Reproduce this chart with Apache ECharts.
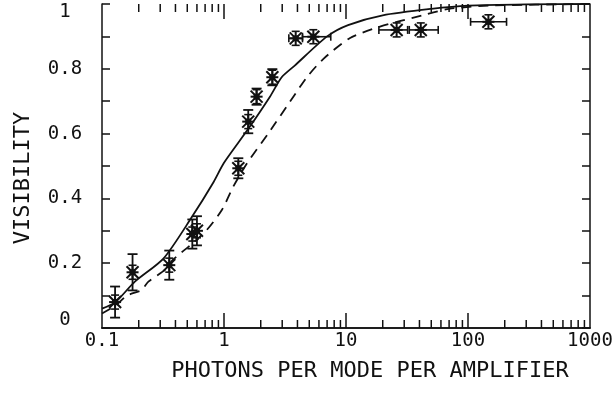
<!DOCTYPE html>
<html>
<head>
<meta charset="utf-8">
<script src="https://cdn.jsdelivr.net/npm/echarts@6/dist/echarts.min.js"></script>
<style>
  html, body { margin: 0; background: #fff; }
  #chart { width: 613px; height: 398px; }
</style>
</head>
<body>
<div id="chart"></div>
<script>
  const photons     = [0.128, 0.178, 0.356, 0.55, 0.6, 1.31, 1.58, 1.85, 2.49, 3.87, 5.4, 26, 41, 147];
  const visibility  = [0.08, 0.172, 0.194, 0.29, 0.30, 0.493, 0.637, 0.714, 0.774, 0.894, 0.899, 0.92, 0.92, 0.945];
  const visLow      = [0.032, 0.116, 0.149, 0.245, 0.255, 0.462, 0.601, 0.689, 0.749, 0.884, 0.889, 0.908, 0.908, 0.937];
  const visHigh     = [0.128, 0.228, 0.239, 0.335, 0.345, 0.524, 0.673, 0.739, 0.799, 0.904, 0.909, 0.932, 0.932, 0.953];
  const photonsLow  = [0.128, 0.178, 0.356, 0.55, 0.6, 1.31, 1.58, 1.85, 2.49, 3.4, 4.4, 18.6, 33, 105];
  const photonsHigh = [0.128, 0.178, 0.356, 0.55, 0.6, 1.31, 1.58, 1.85, 2.49, 4.4, 7.5, 32, 57, 207];

  // theory curves
  const solidX = [0.1, 0.128, 0.186, 0.32, 0.54, 0.82, 1.0, 1.55, 2.38, 2.97, 3.8, 7, 10.4, 20, 50, 100, 300, 1000];
  const solidY = [0.06, 0.079, 0.143, 0.215, 0.34, 0.45, 0.51, 0.61, 0.714, 0.774, 0.81, 0.9, 0.935, 0.965, 0.985, 0.995, 0.999, 1.0];
  const dashX  = [0.1, 0.13, 0.16, 0.21, 0.24, 0.33, 0.38, 0.53, 0.72, 0.96, 1.19, 1.54, 2.3, 3.8, 4.8, 6.5, 10.8, 19, 43, 70, 150, 1000];
  const dashY  = [0.045, 0.07, 0.1, 0.117, 0.143, 0.18, 0.21, 0.256, 0.302, 0.364, 0.436, 0.508, 0.6, 0.72, 0.775, 0.83, 0.895, 0.93, 0.966, 0.985, 0.995, 1.0];

  // log ticks on bottom and top edges
  const majorTicks = [1, 10, 100];
  const minorTicks = [0.2, 0.3, 0.4, 0.5, 0.6, 0.7, 0.8, 0.9,
                      2, 3, 4, 5, 6, 7, 8, 9,
                      20, 30, 40, 50, 60, 70, 80, 90,
                      200, 300, 400, 500, 600, 700, 800, 900];

  const font = 'DejaVu Sans Mono';
  const ink = '#111';

  const chart = echarts.init(document.getElementById('chart'));

  const logAxis = {
    type: 'log', logBase: 10, min: 0.1, max: 1000,
    axisLine: { show: true, lineStyle: { color: ink, width: 1.5 } },
    axisTick: { show: false },
    splitLine: { show: false },
    minorTick: { show: false }
  };
  const linAxis = {
    type: 'value', min: 0, max: 1, interval: 0.2,
    axisLine: { show: true, lineStyle: { color: ink, width: 1.5 } },
    axisTick: { show: true, inside: true, length: 8, lineStyle: { color: ink, width: 1.5 } },
    minorTick: { show: true, splitNumber: 2, length: 8, lineStyle: { color: ink, width: 1.5 } },
    splitLine: { show: false }
  };

  function seg(x1, y1, x2, y2, w) {
    return { type: 'line', shape: { x1, y1, x2, y2 }, style: { stroke: ink, lineWidth: w || 1.6 } };
  }

  const tickData = majorTicks.map(v => [v, 0.5, 15]).concat(minorTicks.map(v => [v, 0.5, 8]));

  // one custom series per frame edge: 1 = top, 0 = bottom
  function tickSeries(edge) {
    return {
      type: 'custom', xAxisIndex: 0, yAxisIndex: 0,
      data: tickData,
      encode: { x: 0, y: 1 },
      silent: true, clip: false, z: 5,
      renderItem: function (params, api) {
        const p = api.coord([api.value(0), edge]);
        const len = api.value(2);
        const y1 = edge ? p[1] : p[1] - len;
        return { type: 'rect', shape: { x: p[0] - 0.75, y: y1, width: 1.5, height: len }, style: { fill: ink } };
      }
    };
  }

  const option = {
    animation: false,
    backgroundColor: '#fff',
    grid: { left: 102, right: 23, top: 4, bottom: 70, outerBoundsMode: 'none' },
    xAxis: [
      Object.assign({}, logAxis, {
        position: 'bottom',
        name: 'PHOTONS PER MODE PER AMPLIFIER',
        nameLocation: 'middle', nameGap: 32,
        nameTextStyle: { fontFamily: font, fontSize: 22, color: ink, padding: [0, 0, 0, 48] },
        axisLabel: {
          fontFamily: font, fontSize: 19, color: ink, margin: 4,
          formatter: v => String(+(+v).toPrecision(3))
        }
      }),
      Object.assign({}, logAxis, { position: 'top', axisLabel: { show: false } })
    ],
    yAxis: [
      Object.assign({}, linAxis, {
        position: 'left',
        name: 'VISIBILITY',
        nameLocation: 'middle', nameGap: 68,
        nameTextStyle: { fontFamily: font, fontSize: 22, color: ink, padding: [0, 24, 0, 0] },
        axisLabel: {
          fontFamily: font, fontSize: 19, color: ink, margin: 37, align: 'center',
          formatter: v => (v === 0 ? '{lo|0}' : v === 1 ? '{hi|1}' : v.toFixed(1)),
          rich: {
            hi: { fontFamily: font, fontSize: 19, color: ink, padding: [16, 0, 0, 0] },
            lo: { fontFamily: font, fontSize: 19, color: ink, padding: [0, 0, 16, 0] }
          }
        }
      }),
      Object.assign({}, linAxis, { position: 'right', axisLabel: { show: false } })
    ],
    series: [
      {
        type: 'line', xAxisIndex: 0, yAxisIndex: 0,
        data: solidX.map((x, i) => [x, solidY[i]]),
        smooth: 0.25, showSymbol: false,
        lineStyle: { color: ink, width: 1.8 }
      },
      {
        type: 'line', xAxisIndex: 0, yAxisIndex: 0,
        data: dashX.map((x, i) => [x, dashY[i]]),
        smooth: 0.25, showSymbol: false,
        lineStyle: { color: ink, width: 1.8, type: [10, 7] }
      },
      tickSeries(1),
      tickSeries(0),
      {
        // data points with error bars
        type: 'custom', xAxisIndex: 0, yAxisIndex: 0,
        data: photons.map((x, i) => [x, visibility[i], visLow[i], visHigh[i], photonsLow[i], photonsHigh[i]]),
        encode: { x: 0, y: 1 },
        clip: false,
        renderItem: function (params, api) {
          const c = api.coord([api.value(0), api.value(1)]);
          const lo = api.coord([api.value(0), api.value(2)]);
          const hi = api.coord([api.value(0), api.value(3)]);
          const xl = api.coord([api.value(4), api.value(1)]);
          const xh = api.coord([api.value(5), api.value(1)]);
          const kids = [];
          // vertical error bar with caps
          if (lo[1] - hi[1] > 14) {
            kids.push(seg(c[0], lo[1], c[0], hi[1], 1.8));
            kids.push(seg(c[0] - 5, lo[1], c[0] + 5, lo[1], 1.8));
            kids.push(seg(c[0] - 5, hi[1], c[0] + 5, hi[1], 1.8));
          }
          // horizontal error bar with caps
          if (xh[0] - xl[0] > 4) {
            kids.push(seg(xl[0], c[1], xh[0], c[1], 1.6));
            kids.push(seg(xl[0], c[1] - 4, xl[0], c[1] + 4, 1.6));
            kids.push(seg(xh[0], c[1] - 4, xh[0], c[1] + 4, 1.6));
          }
          // asterisk marker
          const r = 6;
          kids.push(seg(c[0] - r, c[1] - r, c[0] + r, c[1] + r, 2));
          kids.push(seg(c[0] - r, c[1] + r, c[0] + r, c[1] - r, 2));
          kids.push(seg(c[0], c[1] - r - 1, c[0], c[1] + r + 1, 2));
          kids.push(seg(c[0] - r, c[1], c[0] + r, c[1], 2));
          kids.push(seg(c[0] - 4, c[1] - r - 1, c[0] + 4, c[1] - r - 1, 1.6));
          kids.push(seg(c[0] - 4, c[1] + r + 1, c[0] + 4, c[1] + r + 1, 1.6));
          kids.push({ type: 'rect', shape: { x: c[0] - 3, y: c[1] - 3, width: 6, height: 6 }, style: { fill: ink } });
          return { type: 'group', children: kids };
        }
      }
    ]
  };

  chart.setOption(option);
</script>
</body>
</html>
